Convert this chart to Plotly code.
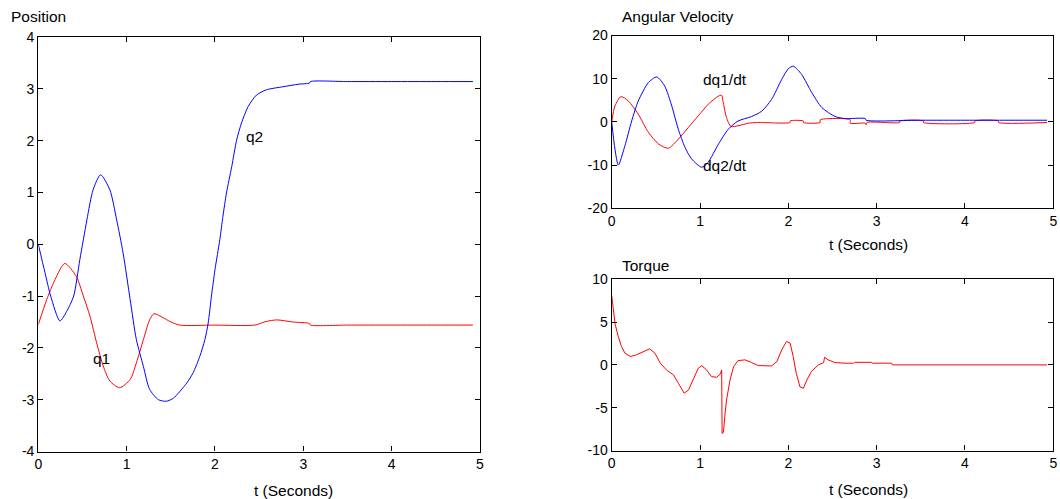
import plotly.graph_objects as go

# ---------------- data ----------------
q1_t = [0, 0.095, 0.19, 0.30, 0.43, 0.51, 0.585, 0.66, 0.735, 0.81, 0.92, 1.04, 1.11, 1.19,
        1.26, 1.31, 1.415, 1.49, 1.60, 2.0, 2.45, 2.58, 2.70, 2.88, 3.07, 3.08, 3.5, 4.0, 4.5, 4.92]
q1 = [-1.55, -1.07, -0.68, -0.37, -0.62, -1.0, -1.39, -1.9, -2.35, -2.64, -2.77, -2.61, -2.29, -1.84,
      -1.46, -1.34, -1.42, -1.49, -1.56, -1.56, -1.56, -1.49, -1.46, -1.50, -1.53, -1.56, -1.56,
      -1.56, -1.56, -1.56]

q2_t = [0, 0.076, 0.14, 0.245, 0.32, 0.40, 0.47, 0.55, 0.62, 0.705, 0.81, 0.887, 0.96, 1.04,
        1.11, 1.19, 1.26, 1.36, 1.45, 1.53, 1.68, 1.753, 1.829, 1.886, 1.923, 1.96, 2.0, 2.055,
        2.09, 2.13, 2.19, 2.245, 2.30, 2.376, 2.47, 2.58, 2.77, 2.95, 3.07, 3.08, 3.5, 4.0, 4.5, 4.92]
q2 = [0, -0.55, -1.0, -1.48, -1.3, -1.0, -0.3, 0.47, 1.05, 1.34, 1.05, 0.47, -0.17, -1.07,
      -1.84, -2.36, -2.8, -3.0, -3.03, -2.97, -2.68, -2.48, -2.16, -1.84, -1.52, -1.0, -0.49, 0.09,
      0.54, 0.99, 1.5, 2.01, 2.34, 2.66, 2.88, 2.98, 3.04, 3.09, 3.11, 3.14, 3.14, 3.14, 3.14, 3.14]

dq1_t = [0, 0.037, 0.105, 0.19, 0.30, 0.415, 0.53, 0.64, 0.754, 0.867, 0.98, 1.094, 1.21, 1.245,
         1.26, 1.30, 1.35, 1.43, 1.55, 1.65, 2.02, 2.021, 2.17, 2.171, 2.36, 2.361, 2.70, 2.701,
         2.87, 2.88, 2.89, 3.26, 3.261, 3.53, 3.531, 4.11, 4.111, 4.38, 4.381, 4.93]
dq1 = [0, 3.7, 5.86, 4.8, 1.8, -2.4, -5.1, -6.1, -4.0, -1.3, 1.4, 4.1, 6.0, 6.15,
       4.8, 1.0, -1.06, -0.9, -0.3, -0.14, -0.14, 0.23, 0.23, -0.14, -0.14, 0.5, 0.5, -0.3,
       -0.3, -0.7, -0.14, -0.14, 0.23, 0.23, -0.14, -0.14, 0.23, 0.23, -0.14, -0.14]

dq2_t = [0, 0.037, 0.075, 0.15, 0.226, 0.30, 0.415, 0.51, 0.60, 0.68, 0.754, 0.83, 0.906, 1.02,
         1.09, 1.21, 1.32, 1.43, 1.585, 1.70, 1.81, 1.925, 2.0, 2.057, 2.15, 2.265, 2.38, 2.53,
         2.64, 2.87, 2.88, 3.5, 4.0, 4.5, 4.93]
dq2 = [0, -6.3, -10, -5.5, 0.2, 4.8, 9.1, 10.4, 8.3, 3.7, -1.7, -5.9, -8.6, -10.5,
       -9.4, -5.1, -1.7, 0.2, 1.25, 2.5, 5.2, 9.85, 12.3, 12.9, 11, 6.8, 3.3, 1.25,
       0.78, 0.78, 0.39, 0.39, 0.39, 0.39, 0.39]

tau_t = [0, 0.02, 0.04, 0.075, 0.11, 0.15, 0.21, 0.28, 0.38, 0.43, 0.49, 0.55, 0.62, 0.70,
         0.755, 0.82, 0.87, 0.925, 0.98, 1.02, 1.075, 1.13, 1.19, 1.23, 1.245, 1.25, 1.265, 1.28,
         1.30, 1.34, 1.38, 1.43, 1.51, 1.585, 1.66, 1.81, 1.87, 1.925, 1.98, 2.02, 2.055, 2.09,
         2.13, 2.17, 2.21, 2.26, 2.34, 2.40, 2.41, 2.45, 2.53, 2.64, 2.74, 2.75, 2.94, 2.95,
         3.17, 3.18, 4.93]
tau = [8.1, 6.05, 4.7, 3.3, 2.15, 1.37, 0.98, 1.17, 1.64, 1.88, 1.37, 0.2, -0.59, -1.17,
       -2.15, -3.3, -2.93, -1.56, -0.39, -0.08, -0.59, -1.37, -1.45, -1.05, -0.59, -8.0, -7.9, -6.05,
       -4.1, -1.76, -0.2, 0.5, 0.59, 0.27, -0.08, -0.12, 0.39, 1.76, 2.73, 2.54, 0.98, -0.98,
       -2.54, -2.73, -1.76, -0.78, 0.0, 0.27, 0.9, 0.59, 0.27, 0.2, 0.2, 0.3, 0.3, 0.2,
       0.2, 0.0, 0.0]

pos_ticks = [-4, -3, -2, -1, 0, 1, 2, 3, 4]
vel_ticks = [-20, -10, 0, 10, 20]
tor_ticks = [-10, -5, 0, 5, 10]
t_ticks = [0, 1, 2, 3, 4, 5]

RED = "#ff0000"
BLUE = "#0000ff"
FONT = "Liberation Sans, Arial, sans-serif"
TXT = 15.5
TICK = 14

W, H = 1060, 499

def px(x):
    return x / W

def py(y):
    return 1 - y / H

def line(color, shape="spline"):
    return dict(color=color, width=1, shape=shape, smoothing=0.7)

fig = go.Figure()
fig.add_trace(go.Scatter(x=q1_t, y=q1, mode="lines", line=line(RED), xaxis="x", yaxis="y"))
fig.add_trace(go.Scatter(x=q2_t, y=q2, mode="lines", line=line(BLUE), xaxis="x", yaxis="y"))
fig.add_trace(go.Scatter(x=dq1_t, y=dq1, mode="lines", line=line(RED), xaxis="x2", yaxis="y2"))
fig.add_trace(go.Scatter(x=dq2_t, y=dq2, mode="lines", line=line(BLUE), xaxis="x2", yaxis="y2"))
fig.add_trace(go.Scatter(x=tau_t, y=tau, mode="lines", line=line(RED, "linear"), xaxis="x3", yaxis="y3"))

def ax(domain, rng, ticks, anchor):
    return dict(domain=domain, range=rng, tickvals=ticks, ticktext=[str(v) for v in ticks],
                ticks="inside", ticklen=5,
                tickcolor="black", mirror="allticks", showline=True, linecolor="black",
                linewidth=1.3, showgrid=False, zeroline=False, anchor=anchor,
                automargin=False,
                tickfont=dict(family=FONT, size=TICK, color="black"), fixedrange=True)

L_X = [px(38.3), px(480)]
R_X = [px(611.7), px(1053.3)]
fig.update_layout(
    width=W, height=H,
    margin=dict(l=0, r=0, t=0, b=0, autoexpand=False),
    paper_bgcolor="white", plot_bgcolor="white",
    showlegend=False,
    xaxis=ax(L_X, [0, 5], t_ticks, "y"),
    yaxis=ax([py(451.5), py(37)], [-4, 4], pos_ticks, "x"),
    xaxis2=ax(R_X, [0, 5], t_ticks, "y2"),
    yaxis2=ax([py(208.3), py(35.5)], [-20, 20], vel_ticks, "x2"),
    xaxis3=ax(R_X, [0, 5], t_ticks, "y3"),
    yaxis3=ax([py(450.5), py(279.3)], [-10, 10], tor_ticks, "x3"),
)

def note(text, x, y, xref="paper", yref="paper", xanchor="left"):
    fig.add_annotation(text=text, x=x, y=y, xref=xref, yref=yref, xanchor=xanchor,
                       yanchor="middle", showarrow=False,
                       font=dict(family=FONT, size=TXT, color="black"))

note("Position", px(9), py(16))
note("Angular Velocity", px(620), py(16))
note("Torque", px(620), py(265))
note("t (Seconds)", px(293), py(490), xanchor="center")
note("t (Seconds)", px(868), py(245), xanchor="center")
note("t (Seconds)", px(868), py(489), xanchor="center")
note("q2", 2.33, 2.07, "x", "y")
note("q1", 0.60, -2.21, "x", "y")
note("dq1/dt", 1.01, 9.85, "x2", "y2")
note("dq2/dt", 1.01, -10.0, "x2", "y2")

fig.write_html("out.html", config={"displayModeBar": False},
               post_script="document.body.style.margin='0';document.body.style.overflow='hidden';")
